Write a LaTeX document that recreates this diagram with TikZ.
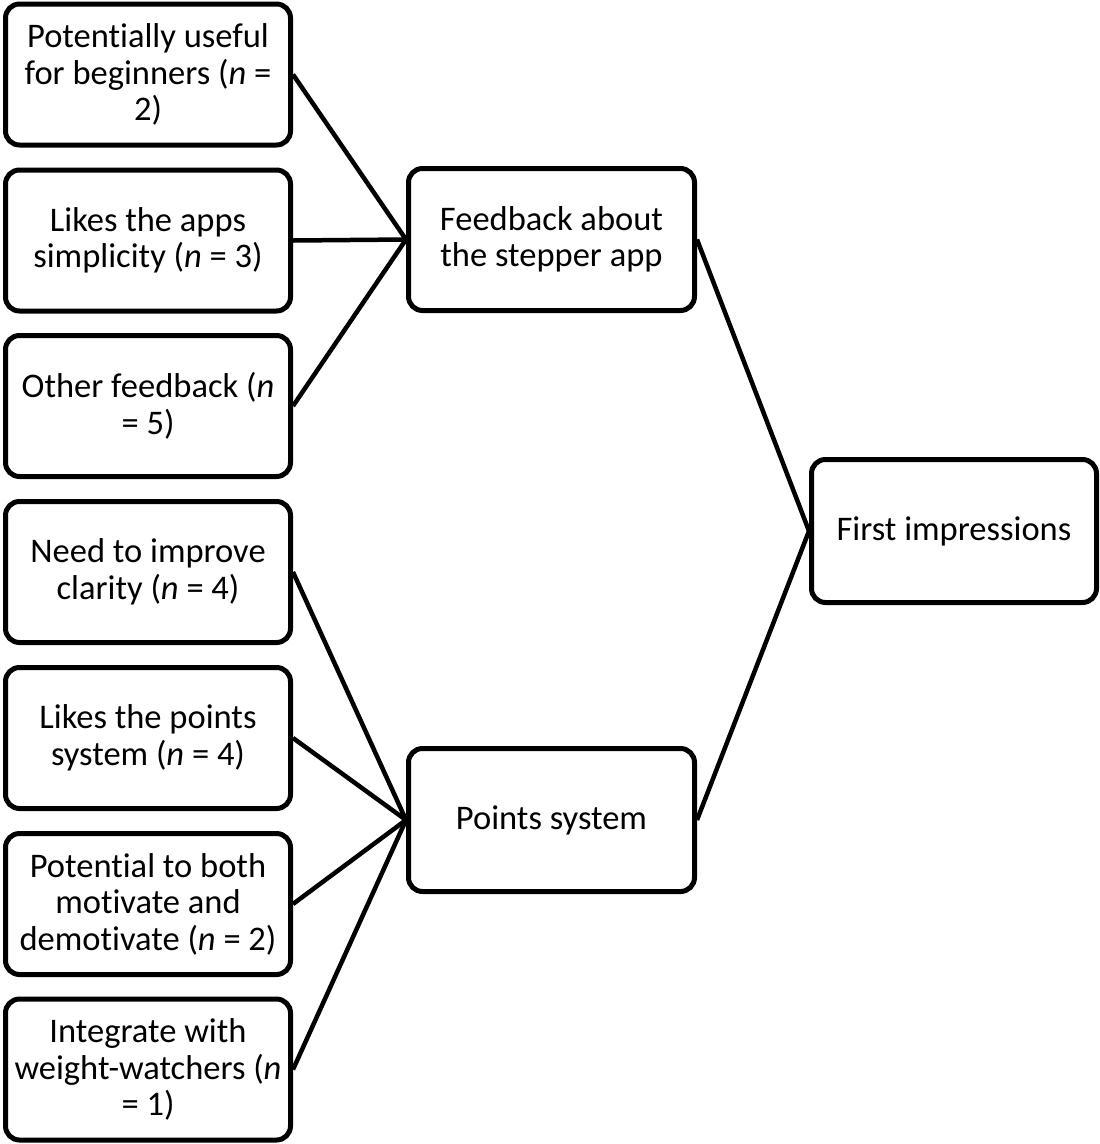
\documentclass[tikz,border=0pt]{standalone}
\usepackage{fontspec}
\setmainfont[Ligatures=NoCommon]{Carlito}
\begin{document}
\begin{tikzpicture}[x=1pt,y=-1pt,
  box/.style={draw=black, line width=5pt, rounded corners=14pt, fill=white,
    minimum width=285pt, minimum height=141pt, inner sep=0pt, align=center,
    font=\fontsize{34.5}{36.5}\selectfont},
  link/.style={draw=black, line width=4.5pt}]
\useasboundingbox (0,0) rectangle (1100,1144);

% left column: individual themes
\node[box] (b1) at (148,74.5) {Potentially useful\\for beginners (\textit{n} =\\2)};
\node[box] (b2) at (148,240.5) {Likes the apps\\simplicity (\textit{n} = 3)};
\node[box] (b3) at (148,406) {Other feedback (\textit{n}\\= 5)};
\node[box] (b4) at (148,572) {Need to improve\\clarity (\textit{n} = 4)};
\node[box] (b5) at (148,738) {Likes the points\\system (\textit{n} = 4)};
\node[box] (b6) at (148,904) {Potential to both\\motivate and\\demotivate (\textit{n} = 2)};
\node[box] (b7) at (148,1069.5) {Integrate with\\weight-watchers (\textit{n}\\= 1)};

% middle column: grouped themes
\node[box, minimum width=286pt, minimum height=142pt] (fb) at (551.5,239.5) {Feedback about\\the stepper app};
\node[box, minimum width=286pt, minimum height=143pt] (ps) at (551.5,820) {Points system};

% right column: overall theme
\node[box, minimum width=285pt, minimum height=143pt] (fi) at (954,531) {First impressions};

% connectors
\foreach \s in {b1,b2,b3} \draw[link] (\s.east) -- (fb.west);
\foreach \s in {b4,b5,b6,b7} \draw[link] (\s.east) -- (ps.west);
\draw[link] (fb.east) -- (fi.west);
\draw[link] (ps.east) -- (fi.west);
\end{tikzpicture}
\end{document}
